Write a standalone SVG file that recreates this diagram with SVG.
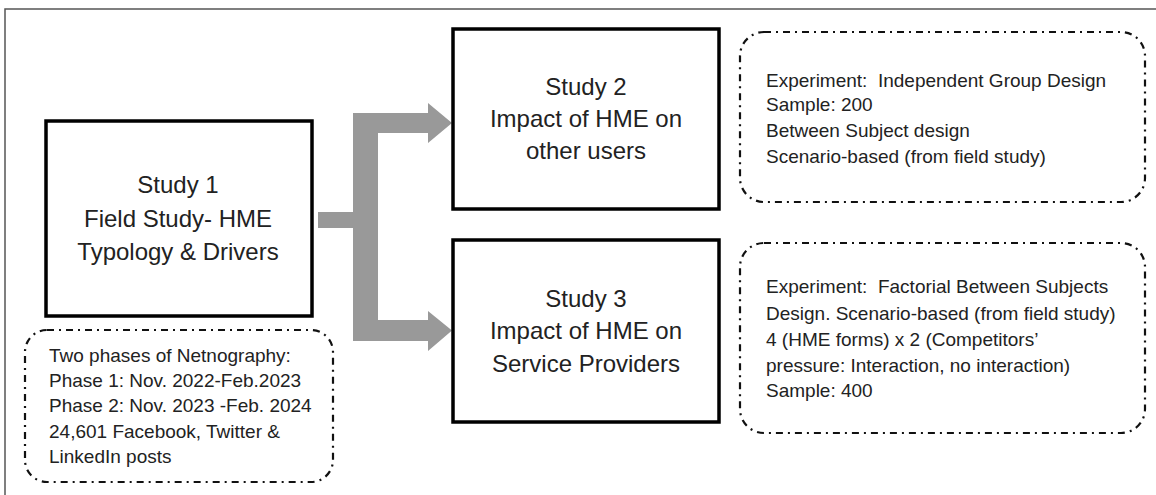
<svg xmlns="http://www.w3.org/2000/svg" width="1156" height="495" viewBox="0 0 1156 495">
<style>
  .frame { fill: none; stroke: #555; stroke-width: 1.5; }
  .box { fill: #fff; stroke: #000; stroke-width: 3.5; }
  .note { fill: #fff; stroke: #111; stroke-width: 2.2; stroke-dasharray: 7 5 2 5; }
  .title { font-family: "Liberation Sans", Arial, sans-serif; font-size: 24px; fill: #222; text-anchor: middle; }
  .small { font-family: "Liberation Sans", Arial, sans-serif; font-size: 19px; fill: #222; }
  .arrow { fill: #999; stroke: none; }
</style>
<rect width="1156" height="495" fill="#fff"/>
<path class="frame" d="M5,495 V9 H1156"/>

<g id="connectors">
  <polygon class="arrow" points="318,212 353,212 353,113 428,113 428,103 452,123 428,143 428,133 378,133 378,320 428,320 428,311 452,330.5 428,351 428,341 353,341 353,228 318,228"/>
</g>

<g id="study1">
  <rect class="box" x="46" y="121" width="266" height="195"/>
  <text class="title" x="178" y="193">Study 1</text>
  <text class="title" x="178" y="227">Field Study- HME</text>
  <text class="title" x="178" y="260">Typology &amp; Drivers</text>
</g>

<g id="study1-note">
  <rect class="note" x="25" y="330" width="308" height="152" rx="22" ry="22"/>
  <text class="small" x="49" y="362">Two phases of Netnography:</text>
  <text class="small" x="49" y="387">Phase 1: Nov. 2022-Feb.2023</text>
  <text class="small" x="49" y="412">Phase 2: Nov. 2023 -Feb. 2024</text>
  <text class="small" x="49" y="438">24,601 Facebook, Twitter &amp;</text>
  <text class="small" x="49" y="463">LinkedIn posts</text>
</g>

<g id="study2">
  <rect class="box" x="453" y="29" width="266" height="180"/>
  <text class="title" x="586" y="95">Study 2</text>
  <text class="title" x="586" y="127">Impact of HME on</text>
  <text class="title" x="586" y="159">other users</text>
</g>

<g id="study2-note">
  <rect class="note" x="740" y="32" width="405" height="170" rx="24" ry="24"/>
  <text class="small" x="766" y="87" xml:space="preserve">Experiment:  Independent Group Design</text>
  <text class="small" x="766" y="111">Sample: 200</text>
  <text class="small" x="766" y="137">Between Subject design</text>
  <text class="small" x="766" y="163">Scenario-based (from field study)</text>
</g>

<g id="study3">
  <rect class="box" x="453" y="240" width="266" height="182"/>
  <text class="title" x="586" y="307">Study 3</text>
  <text class="title" x="586" y="339">Impact of HME on</text>
  <text class="title" x="586" y="372">Service Providers</text>
</g>

<g id="study3-note">
  <rect class="note" x="740" y="243" width="405" height="190" rx="24" ry="24"/>
  <text class="small" x="766" y="293" xml:space="preserve">Experiment:  Factorial Between Subjects</text>
  <text class="small" x="766" y="320">Design. Scenario-based (from field study)</text>
  <text class="small" x="766" y="346">4 (HME forms) x 2 (Competitors’</text>
  <text class="small" x="766" y="372">pressure: Interaction, no interaction)</text>
  <text class="small" x="766" y="397">Sample: 400</text>
</g>
</svg>
